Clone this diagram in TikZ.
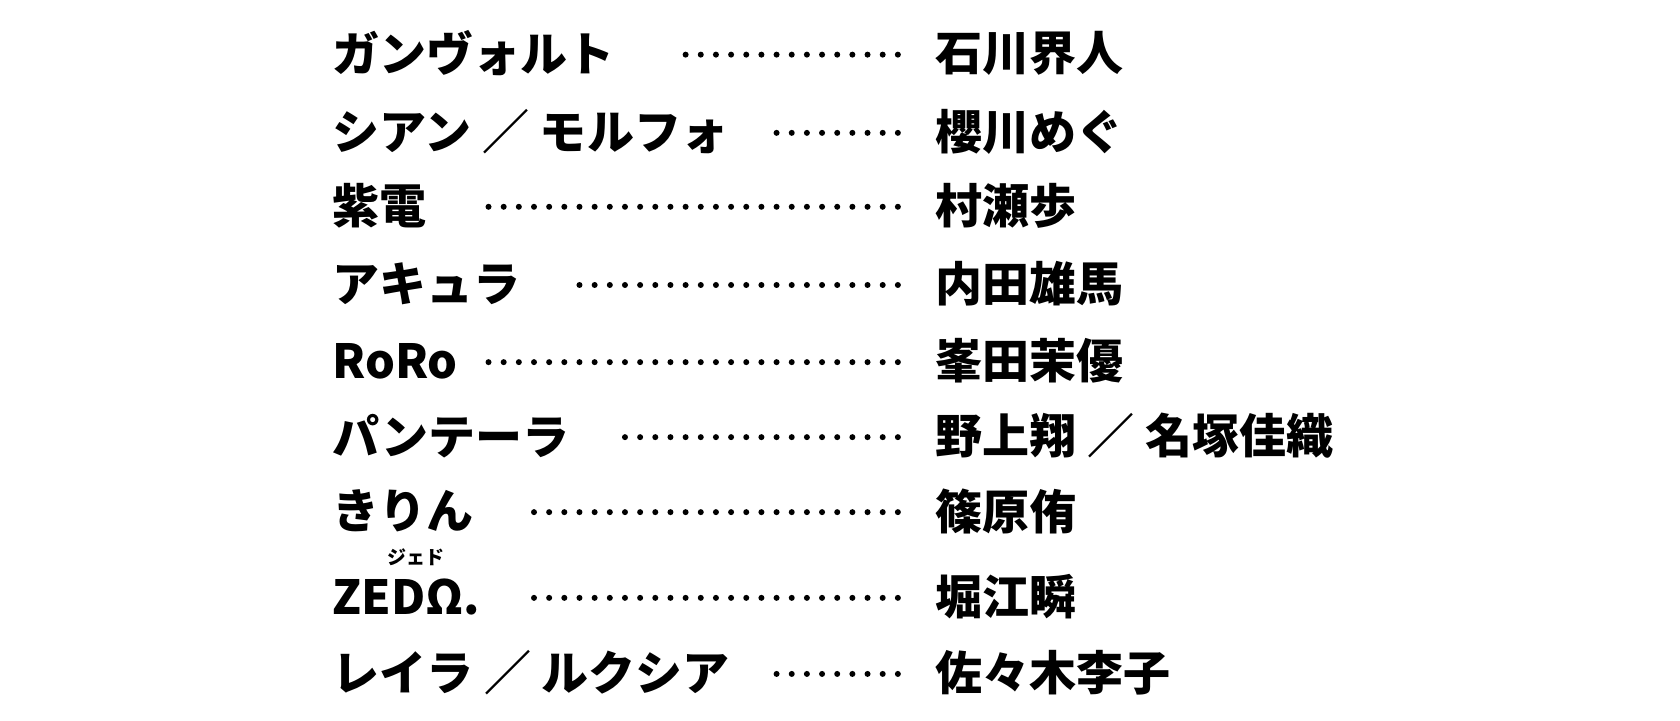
\documentclass[tikz,border=0pt]{standalone}
\usepackage{fontspec}
\setmainfont{Noto Sans CJK JP}[BoldFont={Noto Sans CJK JP Black}]
\begin{document}
\begin{tikzpicture}[x=1.0714pt,y=1.0714pt,
  role/.style={anchor=west,inner sep=0pt,font=\fontsize{47}{49}\selectfont\bfseries},
  actor/.style={anchor=west,inner sep=0pt,font=\fontsize{47}{49}\selectfont\bfseries},
  ruby/.style={inner sep=0pt,font=\fontsize{19}{20}\selectfont\bfseries}]
\useasboundingbox (0,0) rectangle (1568,672);
\foreach \i/\y/\r/\a/\n in {
  1/622/ガンヴォルト/石川界人/15,
  2/549/シアン ／ モルフォ/櫻川めぐ/9,
  3/480/紫電/村瀬歩/28,
  4/407/アキュラ/内田雄馬/22,
  5/335/RoRo/峯田茉優/28,
  6/265/パンテーラ/野上翔 ／ 名塚佳織/19,
  7/195/きりん/篠原侑/25,
  8/115/ZEDΩ./堀江瞬/25,
  9/44/レイラ ／ ルクシア/佐々木李子/9}{
  \node[role] (r\i) at (310,\y) {\r};
  \node[actor] (a\i) at (873,\y) {\a};
  \foreach \k in {1,...,\n}{\fill ({838-(\k-1)*14.15},\y-1) circle (2.8);}
}
\node[ruby] (rb) at (388,152) {ジェド};
\end{tikzpicture}
\end{document}
